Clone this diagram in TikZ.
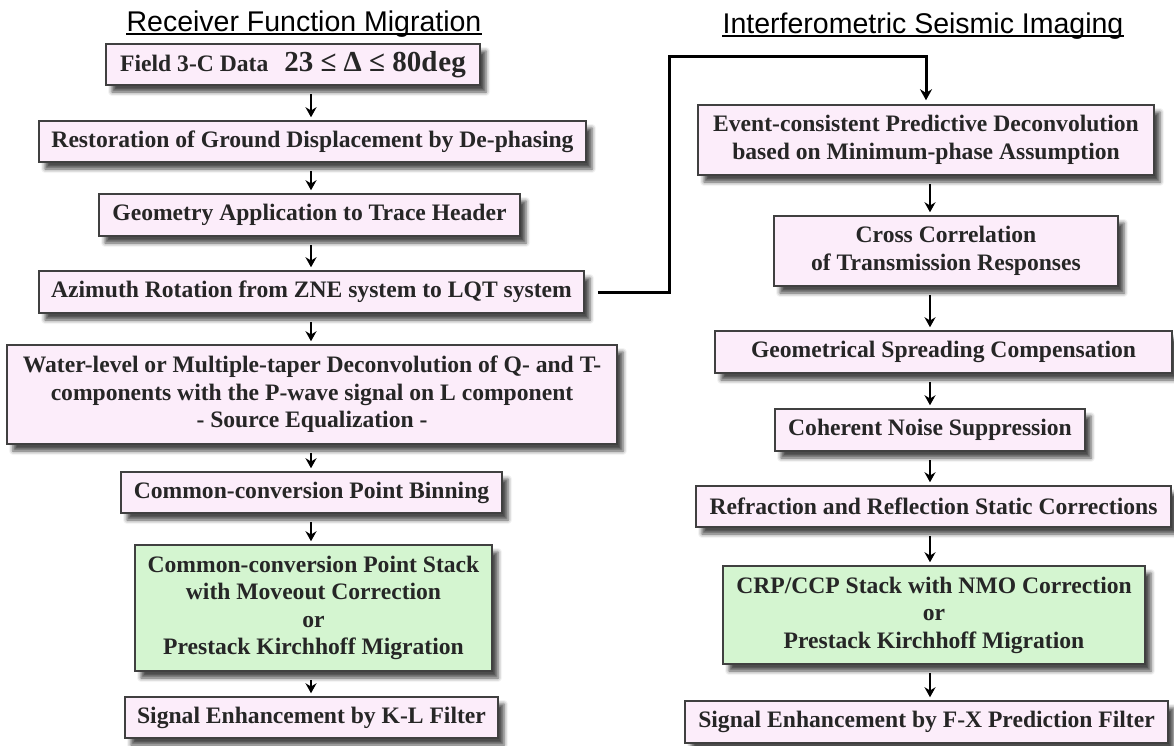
\documentclass[tikz,border=0pt]{standalone}
\usepackage{fontspec}
\setmainfont{Liberation Serif}
\setsansfont{Liberation Sans}
\usetikzlibrary{arrows.meta,shadows.blur}
\definecolor{FlowPink}{RGB}{252,237,250}
\definecolor{FlowGreen}{RGB}{212,245,208}
\definecolor{FlowEdge}{RGB}{64,64,64}

\begin{document}
\begin{tikzpicture}[x=1pt,y=-1pt,
  proc/.style n args={3}{draw=FlowEdge,line width=1.5pt,fill=#1,minimum width=#2pt,minimum height=#3pt,inner sep=0pt,align=center,text=black!85,font=\bfseries\fontsize{23.6}{27.5}\selectfont,blur shadow={shadow xshift=6pt,shadow yshift=-7pt,shadow blur radius=4pt,shadow opacity=70}},
  hd/.style={font=\sffamily\fontsize{28.5}{30}\selectfont,inner sep=0pt,anchor=base},
  arr/.style={line width=2.6pt,-{Stealth[length=10pt,width=11pt]},shorten <=8pt,shorten >=3pt},
  link/.style={line width=3pt,-{Stealth[length=11pt,width=12pt]},shorten >=4pt}]
\useasboundingbox (0,0) rectangle (1174,745);
\node[hd] (t0) at (304,31) {Receiver Function Migration};
\node[hd] (t1) at (923,33) {Interferometric Seismic Imaging};
\foreach \t in {t0,t1} {
   \draw[line width=1.8pt] ([yshift=-3pt]\t.base west) -- ([yshift=-3pt]\t.base east);
}
% receiver function column
   \node[proc={FlowPink}{374}{41}](l0) at(293,64.5) {Field 3-C Data\hspace{16pt}{\fontsize{29}{30}\selectfont 23 ≤ Δ ≤ 80d\kern1pt eg}};
   \node[proc={FlowPink}{547}{41}](l1) at(312.5,141.5) {Restoration of Ground Displacement by De-phasing};
   \node[proc={FlowPink}{421}{42}](l2) at(309.5,215) {Geometry Application to Trace Header};
   \node[proc={FlowPink}{545}{42}](l3) at(311.5,292) {Azimuth Rotation from ZNE system to LQT system};
   \node[proc={FlowPink}{610}{99}](l4) at(312,394.5) {Water-level or Multiple-taper Deconvolution of Q- and T-\\components with the P-wave signal on L component\\- Source Equalization -};
   \node[proc={FlowPink}{381}{41}](l5) at(311.5,492.5) {Common-conversion Point Binning};
   \node[proc={FlowGreen}{357}{126}](l6) at(313.5,608) {Common-conversion Point Stack\\with Moveout Correction\\or\\Prestack Kirchhoff Migration};
   \node[proc={FlowPink}{373}{41}](l7) at(311.5,717.5) {Signal Enhancement by K-L Filter};
% interferometric column
   \node[proc={FlowPink}{456}{70}](r0) at(926,140) {Event-consistent Predictive Deconvolution\\based on Minimum-phase Assumption};
   \node[proc={FlowPink}{344}{70}](r1) at(946,251) {Cross Correlation\\of Transmission Responses};
   \node[proc={FlowPink}{457}{42}](r2) at(943.5,352) {Geometrical Spreading Compensation};
   \node[proc={FlowPink}{310}{42}](r3) at(930,430) {Coherent Noise Suppression};
   \node[proc={FlowPink}{475}{41}](r4) at(933.5,506.5) {Refraction and Reflection Static Corrections};
   \node[proc={FlowGreen}{422}{98}](r5) at(934,615) {CRP/CCP Stack with NMO Correction\\or\\Prestack Kirchhoff Migration};
   \node[proc={FlowPink}{483}{42}](r6) at(926.5,722) {Signal Enhancement by F-X Prediction Filter};
\coordinate (lc) at (311,0);
\coordinate (rc) at (930,0);
\foreach \a/\b in {l0/l1,l1/l2,l2/l3,l3/l4,l4/l5,l5/l6,l6/l7} {
   \draw[arr] (\a.south -| lc) -- (\b.north -| lc);
}
\foreach \a/\b in {r0/r1,r1/r2,r2/r3,r3/r4,r4/r5,r5/r6} {
   \draw[arr] (\a.south -| rc) -- (\b.north -| rc);
}
\coordinate (bend) at (669,56);
\draw[link] ([xshift=13pt]l3.east) -| (bend) -| (r0.north);
\end{tikzpicture}
\end{document}
